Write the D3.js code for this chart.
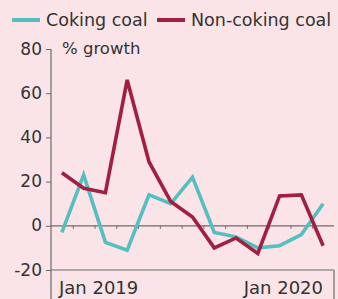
<!DOCTYPE html>
<html>
<head>
<meta charset="utf-8">
<script src="https://cdn.jsdelivr.net/npm/d3@7"></script>
<style>
  html, body { margin: 0; padding: 0; background: #fbe4e7; }
  svg { display: block; }
  text { font-family: "DejaVu Sans", sans-serif; fill: #333; }
</style>
</head>
<body>
<svg id="chart" width="338" height="299"></svg>
<script>
const months = ["Jan 2019","Feb 2019","Mar 2019","Apr 2019","May 2019","Jun 2019","Jul 2019",
                "Aug 2019","Sep 2019","Oct 2019","Nov 2019","Dec 2019","Jan 2020"];
const cokingCoal    = [-3, 23, -7.5, -11, 14, 10, 22, -3, -5, -10, -9, -4, 10];
const nonCokingCoal = [24, 17, 15, 66, 29, 11, 4, -10, -5.5, -12.5, 13.5, 14, -9];
const yTicks = [-20, 0, 20, 40, 60, 80];
const xLabels = ["Jan 2019", "Jan 2020"];
const seriesNames = ["Coking coal", "Non-coking coal"];
const colors = ["#55bfc0", "#a11f40"];

const svg = d3.select("#chart");
const W = 338, H = 299;
svg.append("rect").attr("width", W).attr("height", H).attr("fill", "#fbe4e7");

const x = d3.scaleBand().domain(months).range([51, 334]);
const y = d3.scaleLinear().domain([-20, 80]).range([270, 49]);
const axisColor = "#6f6a6b";

// Y axis
const yAxis = svg.append("g").attr("transform", "translate(51,0)")
  .call(d3.axisLeft(y).tickValues(yTicks).tickSize(5).tickPadding(4).tickFormat(d => String(d)));
yAxis.select(".domain").remove();
yAxis.selectAll("line").attr("stroke", axisColor);
yAxis.selectAll("text").style("font-size", "17px").style("font-family", "'DejaVu Sans', sans-serif")
  .attr("fill", "#333").attr("dy", "0.3em");
svg.append("line").attr("x1", 51).attr("x2", 51).attr("y1", y(80)).attr("y2", H)
  .attr("stroke", axisColor).attr("stroke-width", 1.2);

// zero line with month ticks
svg.append("line").attr("x1", 51).attr("x2", x.range()[1]).attr("y1", y(0)).attr("y2", y(0))
  .attr("stroke", axisColor).attr("stroke-width", 1.2);
const zeroAxis = svg.append("g").attr("transform", `translate(0,${y(0)})`)
  .call(d3.axisBottom(d3.scaleLinear().domain([0, months.length]).range(x.range()))
    .tickValues(d3.range(1, months.length)).tickSize(3).tickFormat(""));
zeroAxis.select(".domain").remove();
zeroAxis.selectAll("line").attr("stroke", axisColor);

// bottom baseline
svg.append("line").attr("x1", 51).attr("x2", x.range()[1]).attr("y1", y(-20)).attr("y2", y(-20))
  .attr("stroke", axisColor).attr("stroke-width", 1.2);
svg.append("line").attr("x1", x.range()[1]).attr("x2", x.range()[1]).attr("y1", y(-20)).attr("y2", H)
  .attr("stroke", axisColor).attr("stroke-width", 1.2);

// x labels
svg.append("text").attr("x", 59).attr("y", 294).style("font-size", "18px").text(xLabels[0]);
svg.append("text").attr("x", 323).attr("y", 294).attr("text-anchor", "end").style("font-size", "18px").text(xLabels[1]);

// % growth
svg.append("text").attr("x", 62).attr("y", 54).style("font-size", "16.5px").text("% growth");

// lines
const line = d3.line().x((d, i) => x(months[i]) + x.bandwidth() / 2).y(d => y(d));
[cokingCoal, nonCokingCoal].forEach((s, k) => {
  svg.append("path").datum(s).attr("d", line).attr("fill", "none")
    .attr("stroke", colors[k]).attr("stroke-width", 3.6).attr("stroke-linejoin", "miter");
});

// legend
const legendPos = [{sx: 12, tx: 46}, {sx: 157, tx: 191}];
seriesNames.forEach((n, k) => {
  svg.append("line").attr("x1", legendPos[k].sx).attr("x2", legendPos[k].sx + 28)
    .attr("y1", 20).attr("y2", 20).attr("stroke", colors[k]).attr("stroke-width", 4);
  svg.append("text").attr("x", legendPos[k].tx).attr("y", 26).style("font-size", "17.5px").text(n);
});
</script>
</body>
</html>
